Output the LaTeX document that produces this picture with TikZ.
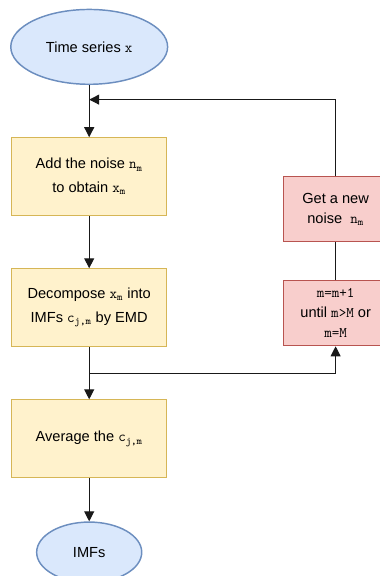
\documentclass[tikz,border=0pt]{standalone}
\usepackage{fontspec}
\setmainfont{Liberation Sans}
\usepackage{tikz}
\usetikzlibrary{arrows.meta,calc,positioning,shapes.geometric}
\definecolor{paleblue}{HTML}{DAE8FC}
\definecolor{steelblue}{HTML}{6C8EBF}
\definecolor{paleyellow}{HTML}{FFF2CC}
\definecolor{ochre}{HTML}{D6B656}
\definecolor{palerose}{HTML}{F8CECC}
\definecolor{brickred}{HTML}{B85450}
\newcommand{\ttsub}[2]{\texttt{#1}\textsubscript{\texttt{#2}}}
\tikzset{
  terminal/.style={
    ellipse,
    draw=steelblue,
    line width=1.1pt,
    fill=paleblue,
    align=center,
    inner sep=0pt,
    font=\fontsize{11}{15}\selectfont
  },
  stepbox/.style={
    draw=ochre,
    line width=0.8pt,
    fill=paleyellow,
    align=center,
    minimum width=4.1cm,
    minimum height=2.06cm,
    inner sep=4pt,
    font=\fontsize{11}{18}\selectfont
  },
  loopbox/.style={
    draw=brickred,
    line width=0.8pt,
    fill=palerose,
    align=center,
    minimum width=2.78cm,
    minimum height=1.72cm,
    inner sep=3pt,
    font=\fontsize{11}{15}\selectfont
  },
  link/.style={
    line width=0.8pt,
    black!90
  },
  arrow/.style={
    link,
    -{Triangle[length=7.5pt,width=7.5pt]}
  }
}

\begin{document}
\begin{tikzpicture}[node distance=1.38cm]
\useasboundingbox (0,0) rectangle (10.03,-15.24);
\node[terminal,minimum width=4.15cm,minimum height=1.98cm] (ts) at (2.36,-1.24) {Time series \texttt{x}};
\node[stepbox,below=of ts] (add) {Add the noise \ttsub{n}{m}\\to obtain \ttsub{x}{m}};
\node[stepbox,below=of add] (dec) {Decompose \ttsub{x}{m} into\\IMFs \ttsub{c}{j,m} by EMD};
\node[stepbox,below=of dec] (avg) {Average the \ttsub{c}{j,m}};
\node[terminal,below=1.14cm of avg,minimum width=2.78cm,minimum height=1.6cm] (imf) {IMFs};
\node[loopbox] (new) at (8.88,-5.54) {Get a new\\noise~ \ttsub{n}{m}};
\node[loopbox,below=1cm of new] (upd) {\texttt{m=m+1}\\until \texttt{m>M} or\\\texttt{m=M}};
\coordinate (merge) at ($(ts.south)!.28!(add.north)$);
\coordinate (split) at ($(dec.south)!.5!(avg.north)$);
\draw[arrow] (ts) -- (add);
\draw[arrow] (add) -- (dec);
\draw[arrow] (dec) -- (avg);
\draw[arrow] (avg) -- (imf);
\draw[arrow] (split) -| (upd);
\draw[link] (upd) -- (new);
\draw[arrow] (new) |- (merge);
\end{tikzpicture}
\end{document}
